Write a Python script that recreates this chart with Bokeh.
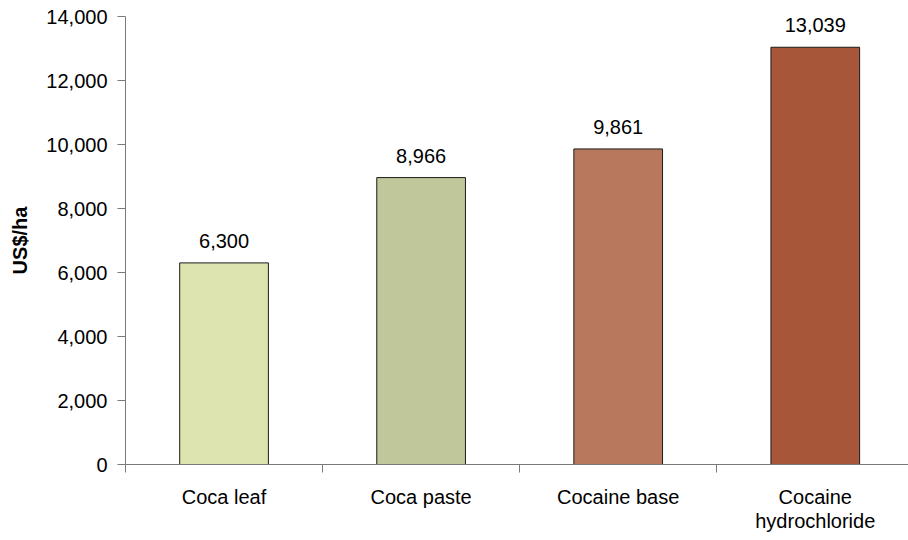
from bokeh.plotting import figure
from bokeh.models import ColumnDataSource, Range1d, FixedTicker, NumeralTickFormatter
from bokeh.core.properties import value
from bokeh.embed import file_html
from bokeh.resources import INLINE

# Value of coca products per hectare
categories = ["Coca leaf", "Coca paste", "Cocaine base", "Cocaine\nhydrochloride"]
values = [6300, 8966, 9861, 13039]
colors = ["#DDE4B0", "#C0C79A", "#B8785E", "#A8563A"]
y_ticks = [0, 2000, 4000, 6000, 8000, 10000, 12000, 14000]

FONT = "Liberation Sans"
SIZE = "20px"

xs = [i + 0.5 for i in range(len(categories))]
src = ColumnDataSource(dict(
    x=xs,
    top=values,
    color=colors,
    label=[f"{v:,}" for v in values],
))

p = figure(
    width=908, height=540,
    x_range=Range1d(0, 3.973), y_range=Range1d(0, 14000),
    output_backend="svg", toolbar_location=None,
    min_border_left=125, min_border_right=0,
    min_border_top=16, min_border_bottom=76,
)
p.outline_line_color = None
p.xgrid.visible = False
p.ygrid.visible = False

p.vbar(x="x", top="top", width=0.45, bottom=0, source=src,
       fill_color="color", line_color="#1a1a1a", line_width=1)

p.text(x="x", y="top", text="label", source=src,
       text_align="center", text_baseline="alphabetic", y_offset=-22,
       text_font=value(FONT), text_font_size=SIZE, text_color="#000000")

# category axis: labels at bar centres, tick marks on category boundaries
xa = p.xaxis[0]
xa.ticker = FixedTicker(ticks=xs, minor_ticks=list(range(len(categories) + 1)))
xa.major_label_overrides = {x: c for x, c in zip(xs, categories)}
xa.major_tick_out = 0
xa.major_tick_in = 0
xa.minor_tick_out = 8
xa.minor_tick_in = 0
xa.major_label_standoff = 13
xa.major_label_text_font = FONT
xa.major_label_text_font_size = SIZE
xa.major_label_text_line_height = 1.1
xa.major_label_text_color = "#000000"
xa.axis_line_color = "#7a7a7a"
xa.minor_tick_line_color = "#7a7a7a"

ya = p.yaxis[0]
ya.ticker = FixedTicker(ticks=y_ticks)
ya.formatter = NumeralTickFormatter(format="0,0")
ya.minor_tick_line_color = None
ya.major_tick_out = 8
ya.major_tick_in = 0
ya.major_label_standoff = 10
ya.major_label_text_font = FONT
ya.major_label_text_font_size = SIZE
ya.major_label_text_color = "#000000"
ya.axis_line_color = "#7a7a7a"
ya.major_tick_line_color = "#7a7a7a"
ya.axis_label = "US$/ha"
ya.axis_label_text_font = FONT
ya.axis_label_text_font_size = SIZE
ya.axis_label_text_font_style = "bold"
ya.axis_label_text_color = "#000000"
ya.axis_label_standoff = 12

open("out.html", "w").write(file_html(p, INLINE))
